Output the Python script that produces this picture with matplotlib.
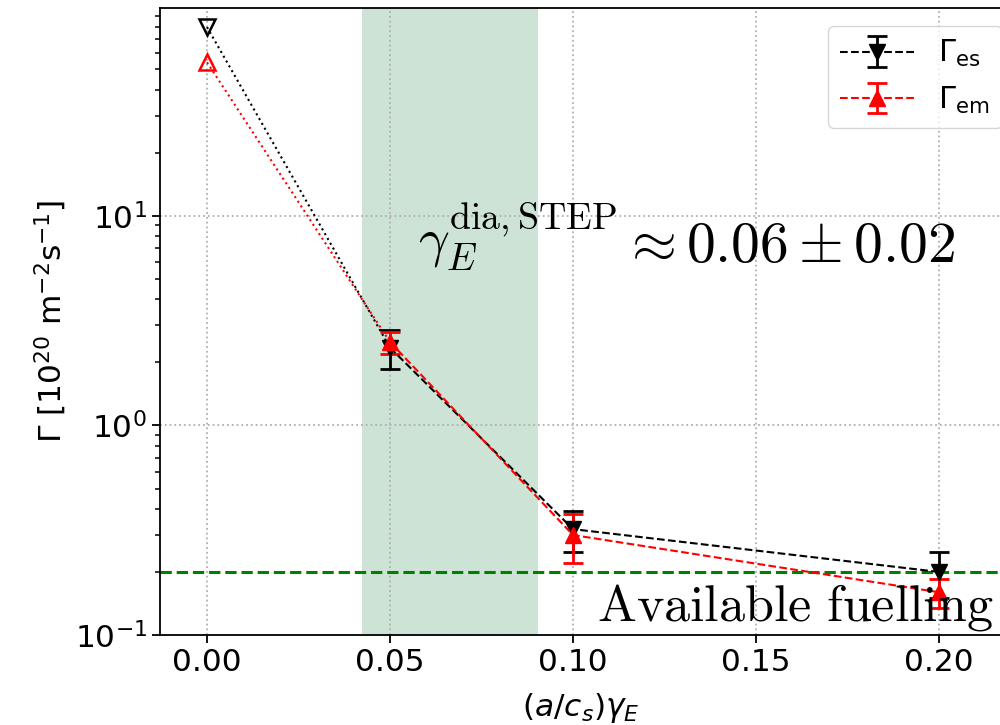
import matplotlib
matplotlib.use("Agg")
import matplotlib.pyplot as plt

# shear rate (a/c_s) gamma_E
gamma_e = [0.0, 0.05, 0.10, 0.20]

# particle flux, electrostatic / electromagnetic runs [1e20 m^-2 s^-1]
flux_es = [79.5, 2.35, 0.32, 0.20]
err_es = [0.0, 0.5, 0.07, 0.05]
flux_em = [54.0, 2.5, 0.30, 0.16]
err_em = [0.0, 0.3, 0.08, 0.026]

fuelling = 0.2
gamma_band = (0.0423, 0.0904)

plt.rcParams['font.size'] = 22.5
plt.rcParams['axes.linewidth'] = 1.3

fig = plt.figure(figsize=(10, 7.25), dpi=100)
ax = fig.add_axes([0.16, 0.1241, 0.841, 0.8648])

ax.axvspan(*gamma_band, color='seagreen', alpha=0.24, lw=0)
ax.axhline(fuelling, color='green', ls='--', lw=2.2)

# gamma_E = 0 point joined by a dotted line
ax.plot(gamma_e[:2], flux_es[:2], ls=':', color='k', lw=1.5)
ax.plot(gamma_e[:1], flux_es[:1], 'v', mfc='none', mec='k', ms=11, mew=1.8)
ax.plot(gamma_e[:2], flux_em[:2], ls=':', color='red', lw=1.5)
ax.plot(gamma_e[:1], flux_em[:1], '^', mfc='none', mec='red', ms=11, mew=1.8)

ax.errorbar(gamma_e[1:], flux_es[1:], yerr=err_es[1:], fmt='v--', color='k',
            ms=11, lw=1.5, elinewidth=2, capsize=7, capthick=2,
            label=r'$\Gamma_{\rm es}$')
ax.errorbar(gamma_e[1:], flux_em[1:], yerr=err_em[1:], fmt='^--', color='red',
            ms=11, lw=1.5, elinewidth=2, capsize=7, capthick=2,
            label=r'$\Gamma_{\rm em}$')

ax.text(0.0577, 6.4, r'$\gamma_E^{\rm dia,STEP}$', fontsize=39,
        math_fontfamily='cm', ha='left', va='baseline')
ax.text(0.2044, 6.03, r'$\approx 0.06 \pm 0.02$', fontsize=41.5,
        math_fontfamily='cm', ha='right', va='baseline')
ax.text(0.1066, 0.1167, r'$\mathrm{Available\ fuelling}$', fontsize=37.5,
        math_fontfamily='cm', ha='left', va='baseline')

ax.set_yscale('log')
ax.set_xlim(-0.01284, 0.21694)
ax.set_ylim(0.1, 98)
ax.set_xticks([0.0, 0.05, 0.10, 0.15, 0.20])
ax.set_xticklabels(['0.00', '0.05', '0.10', '0.15', '0.20'])
ax.tick_params(which='major', length=6, width=1.3)
ax.tick_params(which='minor', length=3.5, width=1.1)
ax.grid(True, which='major', ls=':', color='#b0b0b0', lw=1.3)

ax.set_xlabel(r'$(a/c_s)\gamma_E$', labelpad=10)
ax.set_ylabel(r'$\Gamma$ [$10^{20}$ m$^{-2}$s$^{-1}$]')

ax.legend(loc='upper left', bbox_to_anchor=(0.7943, 0.9713), borderaxespad=0,
          fontsize=22, handlelength=2.4)

fig.savefig('out.png', dpi=100)
